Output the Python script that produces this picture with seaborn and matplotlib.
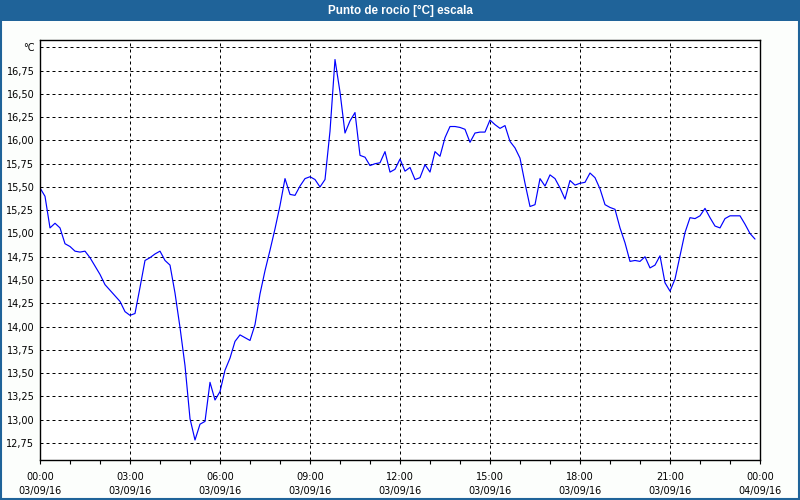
import numpy as np
import pandas as pd
import matplotlib
matplotlib.use("Agg")
import matplotlib.pyplot as plt
import matplotlib.dates as mdates
from matplotlib.patches import Rectangle
import seaborn as sns

# dew point readings, one every 10 minutes from 03/09/16 00:00
dew_point = [
    15.49, 15.40, 15.06, 15.11, 15.06, 14.89, 14.86, 14.81, 14.80, 14.81,
    14.74, 14.65, 14.56, 14.45, 14.39, 14.33, 14.27, 14.16, 14.12, 14.14,
    14.42, 14.71, 14.74, 14.78, 14.81, 14.71, 14.66, 14.36, 13.99, 13.58,
    13.01, 12.78, 12.95, 12.98, 13.40, 13.21, 13.30, 13.53, 13.66, 13.84,
    13.91, 13.88, 13.85, 14.02, 14.35, 14.60, 14.82, 15.05, 15.30, 15.59,
    15.42, 15.41, 15.51, 15.59, 15.61, 15.58, 15.50, 15.58, 16.10, 16.87,
    16.52, 16.08, 16.21, 16.30, 15.84, 15.82, 15.73, 15.75, 15.76, 15.88,
    15.66, 15.69, 15.80, 15.67, 15.71, 15.58, 15.60, 15.74, 15.66, 15.88,
    15.83, 16.03, 16.15, 16.15, 16.14, 16.12, 15.98, 16.08, 16.09, 16.09,
    16.22, 16.17, 16.13, 16.16, 15.99, 15.92, 15.81, 15.54, 15.29, 15.31,
    15.59, 15.51, 15.63, 15.59, 15.49, 15.37, 15.57, 15.52, 15.54, 15.55,
    15.65, 15.60, 15.48, 15.31, 15.28, 15.26, 15.06, 14.90, 14.70, 14.71,
    14.70, 14.75, 14.63, 14.66, 14.76, 14.47, 14.38, 14.51, 14.76, 15.01,
    15.17, 15.16, 15.19, 15.27, 15.17, 15.08, 15.06, 15.16, 15.19, 15.19,
    15.19, 15.10, 15.00, 14.94,
]
times = pd.date_range("2016-09-03 00:00", periods=len(dew_point), freq="10min")

y_ticks = [12.75, 13.0, 13.25, 13.5, 13.75, 14.0, 14.25, 14.5, 14.75,
           15.0, 15.25, 15.5, 15.75, 16.0, 16.25, 16.5, 16.75, 17.0]
y_labels = [f"{v:.2f}".replace(".", ",") for v in y_ticks[:-1]] + ["°C"]

title = "Punto de rocío [°C] escala"

df = pd.DataFrame({"time": times, "dew": dew_point})

sns.set_style("white")
plt.rcParams["font.family"] = ["DejaVu Sans"]

fig = plt.figure(figsize=(8, 5), dpi=100, facecolor="#fcfefc")
ax = fig.add_axes([40 / 800, 1 - 460 / 500, 720 / 800, 420 / 500])
ax.set_facecolor("white")

sns.lineplot(data=df, x="time", y="dew", color="#0000ff", linewidth=0.85, ax=ax)

ax.set_xlim(pd.Timestamp("2016-09-03 00:00"), pd.Timestamp("2016-09-04 00:00"))
ax.set_ylim(12.565, 17.08)

ax.xaxis.set_major_locator(mdates.HourLocator(byhour=range(0, 24, 3)))
ax.xaxis.set_minor_locator(mdates.HourLocator())
ax.xaxis.set_major_formatter(mdates.DateFormatter("%H:%M\n%d/%m/%y"))

ax.set_yticks(y_ticks)
ax.set_yticklabels(y_labels)

ax.grid(True, which="major", color="black", linestyle=(0, (3, 3)), linewidth=0.72)
ax.tick_params(axis="x", which="both", direction="out", length=3, width=0.8,
               color="black", labelsize=7, pad=5.5, bottom=True)
ax.tick_params(axis="y", length=0, labelsize=7, pad=4)
for lab in ax.get_xticklabels() + ax.get_yticklabels():
    lab.set_color("black")
    lab.set_linespacing(1.5)

for s in ax.spines.values():
    s.set_color("black")
    s.set_linewidth(1)

ax.set_xlabel("")
ax.set_ylabel("")

# window title bar and border
fig.patches.append(Rectangle((0, 1 - 21 / 500), 1, 21 / 500, transform=fig.transFigure,
                             facecolor="#1f6399", edgecolor="none", zorder=0))
fig.patches.append(Rectangle((0.001, 0.002), 0.998, 0.99, transform=fig.transFigure,
                             facecolor="none", edgecolor="#1f6399", linewidth=1.5, zorder=0))
fig.text(0.5, 1 - 10.5 / 500, title, color="white", fontsize=8.4, fontweight="bold",
         ha="center", va="center", family=["Liberation Sans", "DejaVu Sans"])

fig.savefig("out.png", dpi=100, facecolor=fig.get_facecolor())
